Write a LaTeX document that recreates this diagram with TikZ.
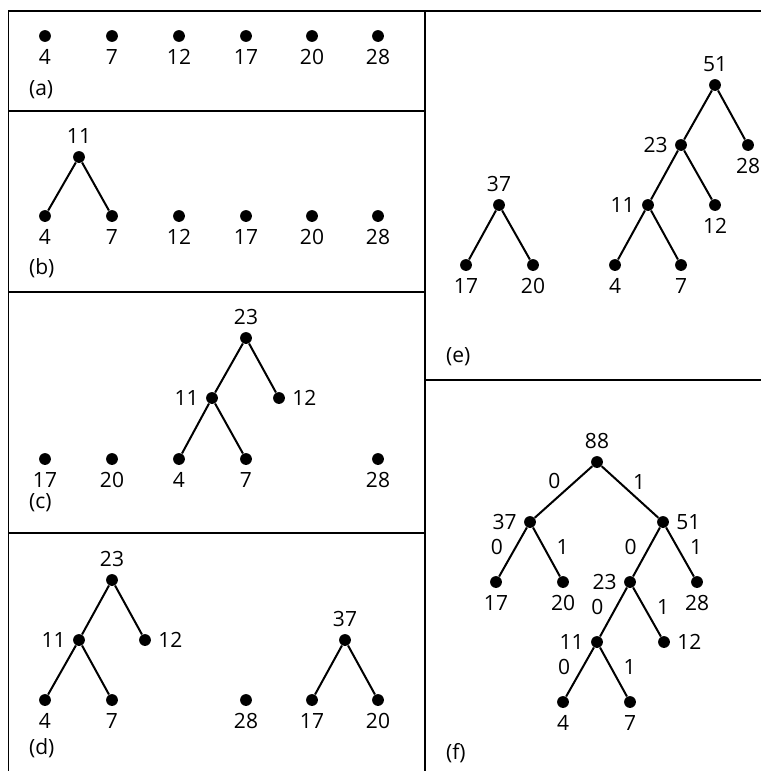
\documentclass[tikz,border=0pt]{standalone}
\usepackage{fontspec}
\setmainfont{Open Sans}
\tikzset{
  dot/.style={circle, fill, inner sep=0pt, minimum size=5.9pt},
  branch/.style={line width=1pt},
  frame/.style={line width=0.75pt},
  bit/.style={midway, inner sep=1pt},
  bitl/.style={bit, left=3.5pt, yshift=2.5pt},
  bitr/.style={bit, right=3.5pt, yshift=2.5pt},
}
\begin{document}
\begin{tikzpicture}[x=0.5pt, y=-0.5pt, font=\fontsize{10.5}{12}\selectfont, label distance=0pt]
    \useasboundingbox (0,0) rectangle (761,771);
    % frame
    \draw[frame] (8.5,771) -- (8.5,11) -- (761,11);
    \draw[frame] (425,11) -- (425,771);
    \draw[frame] (8.5,111) -- (425,111);
    \draw[frame] (8.5,292) -- (425,292);
    \draw[frame] (8.5,533) -- (425,533);
    \draw[frame] (425,380) -- (761,380);
    % (a)
    \node[dot, label=below:4] (A4) at (45,36) {};
    \node[dot, label=below:7] (A7) at (112,36) {};
    \node[dot, label=below:12] (A12) at (179,36) {};
    \node[dot, label=below:17] (A17) at (246,36) {};
    \node[dot, label=below:20] (A20) at (312,36) {};
    \node[dot, label=below:28] (A28) at (378,36) {};
    \node[anchor=west] (LA) at (22,90) {(a)};
    % (b)
    \node[dot, label=above:11] (B11) at (79,157) {};
    \node[dot, label=below:4] (B4) at (45,216) {};
    \node[dot, label=below:7] (B7) at (112,216) {};
    \node[dot, label=below:12] (B12) at (179,216) {};
    \node[dot, label=below:17] (B17) at (246,216) {};
    \node[dot, label=below:20] (B20) at (312,216) {};
    \node[dot, label=below:28] (B28) at (378,216) {};
    \node[anchor=west] (LB) at (22,268) {(b)};
    \draw[branch] (B11) -- (B4);
    \draw[branch] (B11) -- (B7);
    % (c)
    \node[dot, label=above:23] (C23) at (246,338) {};
    \node[dot, label=left:11] (C11) at (212,398) {};
    \node[dot, label=right:12] (C12) at (279,398) {};
    \node[dot, label=below:17] (C17) at (45,459) {};
    \node[dot, label=below:20] (C20) at (112,459) {};
    \node[dot, label=below:4] (C4) at (179,459) {};
    \node[dot, label=below:7] (C7) at (246,459) {};
    \node[dot, label=below:28] (C28) at (378,459) {};
    \node[anchor=west] (LC) at (22,503) {(c)};
    \draw[branch] (C23) -- (C11);
    \draw[branch] (C23) -- (C12);
    \draw[branch] (C11) -- (C4);
    \draw[branch] (C11) -- (C7);
    % (d)
    \node[dot, label=above:23] (D23) at (112,580) {};
    \node[dot, label=left:11] (D11) at (79,640) {};
    \node[dot, label=right:12] (D12) at (145,640) {};
    \node[dot, label=below:4] (D4) at (45,700) {};
    \node[dot, label=below:7] (D7) at (112,700) {};
    \node[dot, label=below:28] (D28) at (246,700) {};
    \node[dot, label=above:37] (D37) at (345,640) {};
    \node[dot, label=below:17] (D17) at (312,700) {};
    \node[dot, label=below:20] (D20) at (378,700) {};
    \node[anchor=west] (LD) at (22,748) {(d)};
    \draw[branch] (D23) -- (D11);
    \draw[branch] (D23) -- (D12);
    \draw[branch] (D11) -- (D4);
    \draw[branch] (D11) -- (D7);
    \draw[branch] (D37) -- (D17);
    \draw[branch] (D37) -- (D20);
    % (e)
    \node[dot, label=above:37] (E37) at (499,205) {};
    \node[dot, label=below:17] (E17) at (466,265) {};
    \node[dot, label=below:20] (E20) at (533,265) {};
    \node[dot, label=above:51] (E51) at (715,85) {};
    \node[dot, label=left:23] (E23) at (681,145) {};
    \node[dot, label=below:28] (E28) at (748,145) {};
    \node[dot, label=left:11] (E11) at (648,205) {};
    \node[dot, label=below:12] (E12) at (715,205) {};
    \node[dot, label=below:4] (E4) at (615,265) {};
    \node[dot, label=below:7] (E7) at (681,265) {};
    \node[anchor=west] (LE) at (439,357) {(e)};
    \draw[branch] (E37) -- (E17);
    \draw[branch] (E37) -- (E20);
    \draw[branch] (E51) -- (E23);
    \draw[branch] (E51) -- (E28);
    \draw[branch] (E23) -- (E11);
    \draw[branch] (E23) -- (E12);
    \draw[branch] (E11) -- (E4);
    \draw[branch] (E11) -- (E7);
    % (f)
    \node[dot, label=above:88] (F88) at (597,462) {};
    \node[dot, label=left:37] (F37) at (530,522) {};
    \node[dot, label=right:51] (F51) at (663,522) {};
    \node[dot, label=below:17] (F17) at (496,582) {};
    \node[dot, label=below:20] (F20) at (563,582) {};
    \node[dot, label=left:23] (F23) at (630,582) {};
    \node[dot, label=below:28] (F28) at (697,582) {};
    \node[dot, label=left:11] (F11) at (597,642) {};
    \node[dot, label=right:12] (F12) at (664,642) {};
    \node[dot, label=below:4] (F4) at (563,702) {};
    \node[dot, label=below:7] (F7) at (630,702) {};
    \node[anchor=west] (LF) at (439,753) {(f)};
    \draw[branch] (F88) -- node[bit, above left] {0} (F37);
    \draw[branch] (F88) -- node[bit, above right] {1} (F51);
    \draw[branch] (F37) -- node[bitl] {0} (F17);
    \draw[branch] (F37) -- node[bitr] {1} (F20);
    \draw[branch] (F51) -- node[bitl] {0} (F23);
    \draw[branch] (F51) -- node[bitr] {1} (F28);
    \draw[branch] (F23) -- node[bitl] {0} (F11);
    \draw[branch] (F23) -- node[bitr] {1} (F12);
    \draw[branch] (F11) -- node[bitl] {0} (F4);
    \draw[branch] (F11) -- node[bitr] {1} (F7);
\end{tikzpicture}
\end{document}
